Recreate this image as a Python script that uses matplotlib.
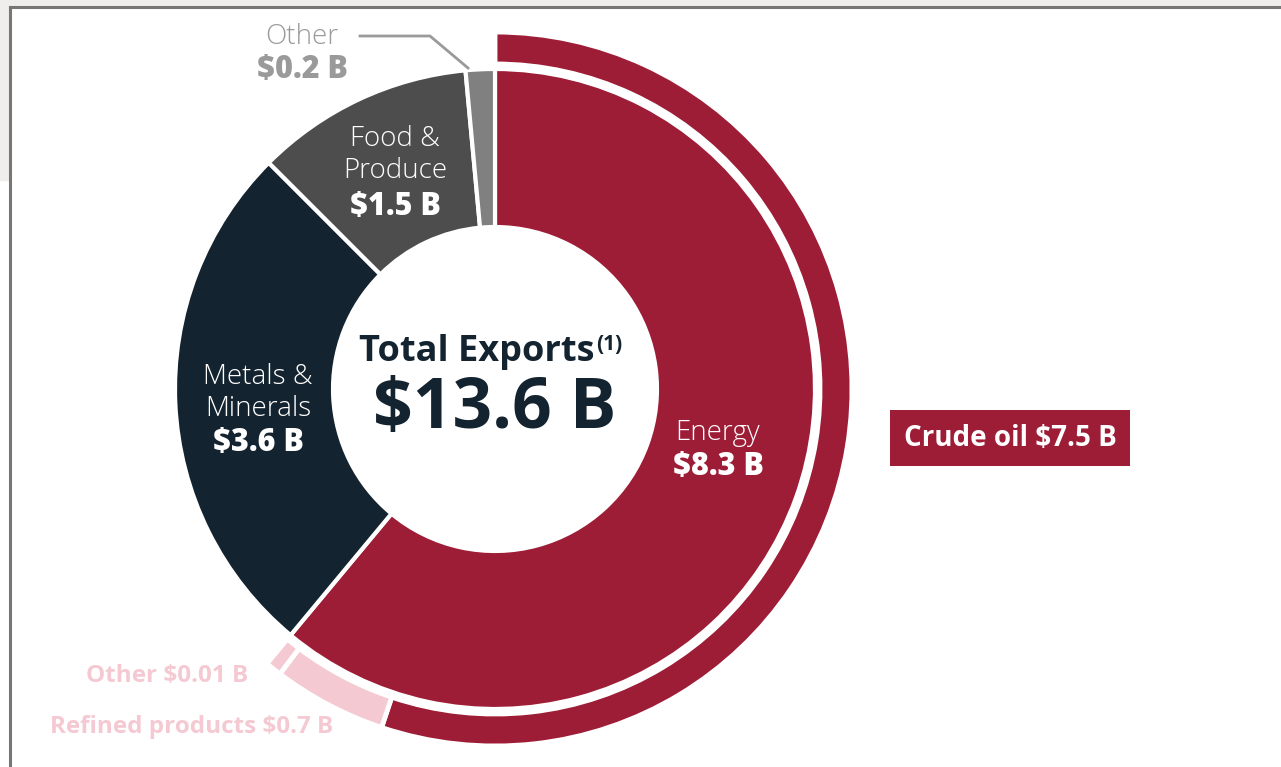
import matplotlib.pyplot as plt
from matplotlib.patches import Rectangle

plt.rcParams['font.family'] = ['Open Sans', 'DejaVu Sans']

# inner ring: export categories ($B), clockwise from 12 o'clock
categories = ['Energy', 'Metals &\nMinerals', 'Food &\nProduce', 'Other']
values = [8.3, 3.6, 1.5, 0.2]
total = 13.6

# outer ring: breakdown of energy ($B)
energy_parts = ['Crude oil', 'Refined products', 'Other']
energy_values = [7.5, 0.7, 0.01]

RED = '#9d1c36'
NAVY = '#13232f'
DARK = '#4d4d4d'
GREY = '#808080'
PINK = '#f5c9d2'

W, H = 1281, 767
fig = plt.figure(figsize=(W / 100, H / 100), dpi=100)
fig.patch.set_facecolor('white')
ax = fig.add_axes([0, 0, 1, 1])

def Y(y):  # pixel row from top -> data y
    return H - y

cx, cy = 495, Y(389)

ax.pie(values, radius=320, center=(cx, cy), startangle=90, counterclock=False,
       colors=[RED, NAVY, DARK, GREY],
       wedgeprops=dict(width=158, edgecolor='white', linewidth=3))

# outer ring; the tiny "other" piece is shown as the rest of the energy slice
shown_other = values[0] - energy_values[0] - energy_values[1]
ring = [energy_values[0], energy_values[1], shown_other, total - values[0]]
wedges, _ = ax.pie(ring, radius=357, center=(cx, cy), startangle=90, counterclock=False,
                   colors=[RED, PINK, PINK, 'white'],
                   wedgeprops=dict(width=32, edgecolor='white', linewidth=3.5))
wedges[-1].set_visible(False)

# pie() resets the limits, so set them afterwards
ax.set_xlim(0, W)
ax.set_ylim(0, H)
ax.set_aspect('equal')
ax.axis('off')

# slide frame
ax.add_patch(Rectangle((0, Y(7)), W, 7, color='#efeeec', zorder=0))
ax.add_patch(Rectangle((0, Y(180)), 10, 180, color='#efeeec', zorder=0))
ax.plot([10, W], [Y(7), Y(7)], color='#767676', lw=2.2, zorder=1)
ax.plot([10, 10], [Y(7), 0], color='#767676', lw=2.2, zorder=1)

# centre text
t = ax.text(359, Y(352), 'Total Exports', ha='left', va='center',
            fontsize=26, fontweight='bold', color=NAVY)
ax.annotate('(1)', xy=(1, 1), xycoords=t, xytext=(1, 0), textcoords='offset points',
            ha='left', va='top', fontsize=15, fontweight='bold', color=NAVY)
ax.text(cx, Y(410), '$%.1f B' % total, ha='center', va='center',
        fontsize=50, fontweight='bold', color=NAVY)

# slice labels
lab_pos = [(718, 433), (258, 393), (395, 155), (302, 37)]
val_y = [467, 443, 207, 70]
lab_col = ['white', 'white', 'white', '#9a9a9a']
for name, v, (x, y), vy, c in zip(categories, values, lab_pos, val_y, lab_col):
    ax.text(x, Y(y), name, ha='center', va='center', fontsize=20, color=c,
            fontweight='light', linespacing=1.15)
    ax.text(x, Y(vy), '$%.1f B' % v, ha='center', va='center', fontsize=22,
            fontweight='heavy', color=c)

# leader for the small "Other" slice
ax.plot([360, 430, 468], [Y(36), Y(36), Y(68)], color='#9a9a9a', lw=2)

# energy breakdown labels
ax.text(1010, Y(438), '%s $%.1f B' % (energy_parts[0], energy_values[0]),
        ha='center', va='center', fontsize=20, fontweight='bold', color='white',
        bbox=dict(boxstyle='square,pad=0.5', facecolor=RED, edgecolor='none'))
ax.text(248, Y(676), '%s $%.2f B' % (energy_parts[2], energy_values[2]),
        ha='right', va='center', fontsize=17.5, fontweight='bold', color=PINK)
ax.text(333, Y(727), '%s $%.1f B' % (energy_parts[1], energy_values[1]),
        ha='right', va='center', fontsize=17.5, fontweight='bold', color=PINK)

fig.savefig('out.png', dpi=100)
